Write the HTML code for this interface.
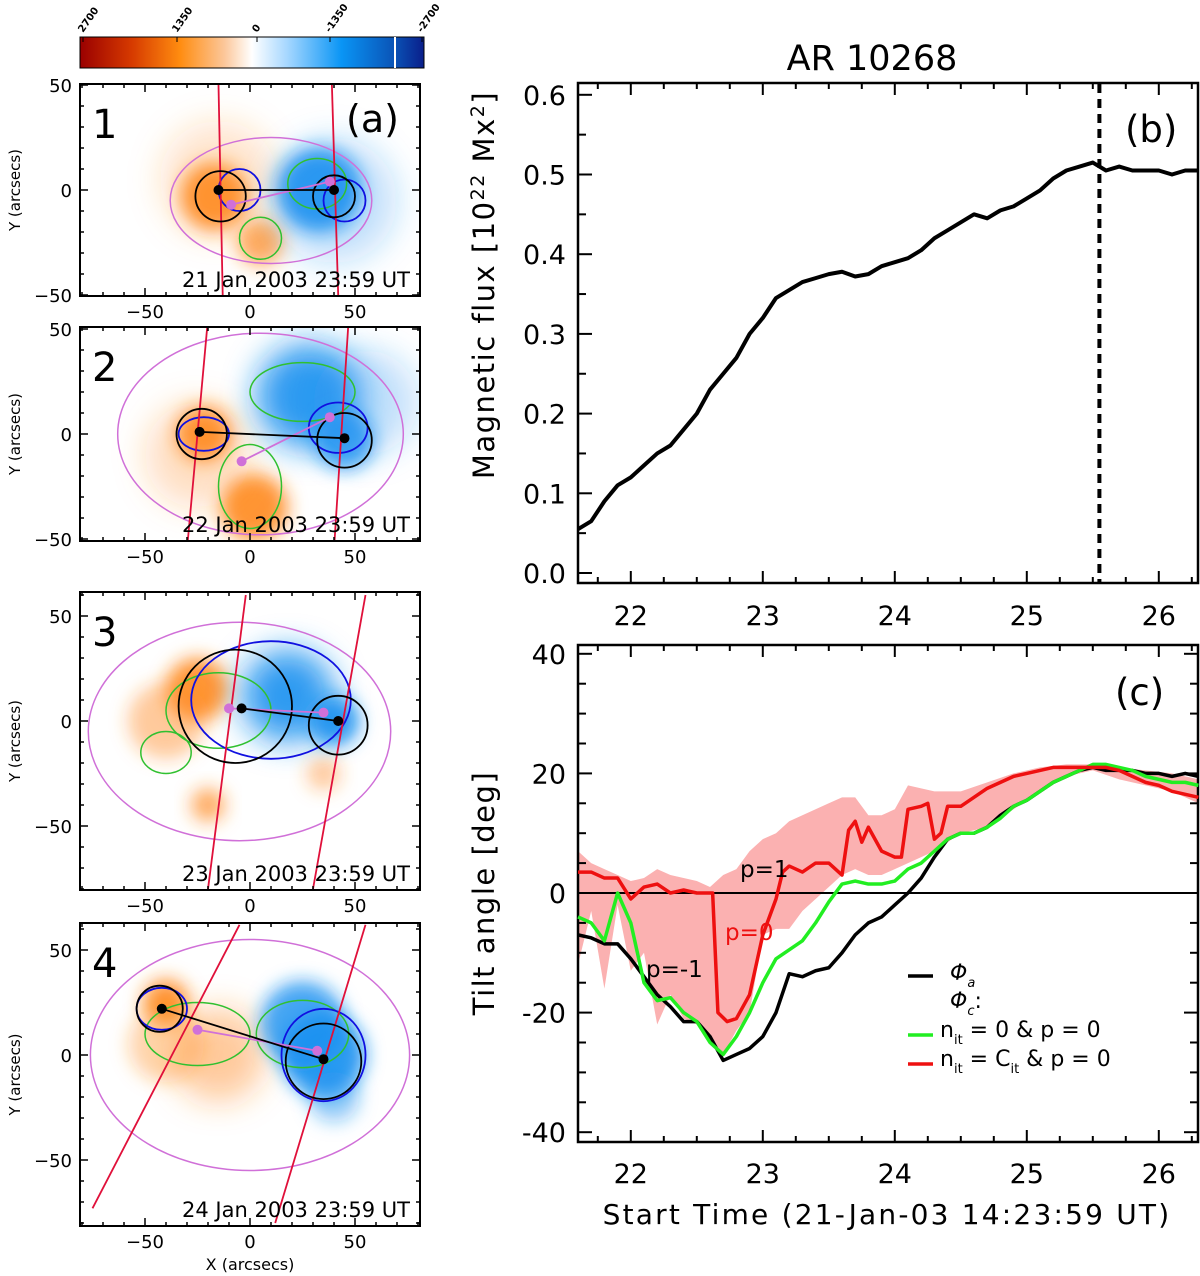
<!DOCTYPE html>
<html><head><meta charset="utf-8"><style>
body{margin:0;background:#fff}
svg{display:block;font-family:"DejaVu Sans","Liberation Sans",sans-serif}
</style></head><body>
<svg id="fig" width="1200" height="1276" viewBox="0 0 1200 1276" xmlns="http://www.w3.org/2000/svg">
<defs>
<linearGradient id="cb" x1="0" x2="1" y1="0" y2="0">
<stop offset="0" stop-color="#9a0000"/><stop offset="0.15" stop-color="#d63a00"/><stop offset="0.29" stop-color="#ff8c10"/><stop offset="0.42" stop-color="#fcc79a"/><stop offset="0.5" stop-color="#ffffff"/><stop offset="0.6" stop-color="#a8d8ff"/><stop offset="0.76" stop-color="#0a95f5"/><stop offset="0.91" stop-color="#0a55b8"/><stop offset="1" stop-color="#0a1e8a"/>
</linearGradient>
<filter id="blur" x="-50%" y="-50%" width="200%" height="200%"><feGaussianBlur stdDeviation="9"/></filter>
<filter id="blur2" x="-50%" y="-50%" width="200%" height="200%"><feGaussianBlur stdDeviation="16"/></filter>
</defs>
<g id="left"></g>
<g id="pb"></g>
<g id="pc"></g>
</svg>
<script>
// ---------- Panel (b) data ----------
const fluxTimes=[21.6,21.7,21.8,21.9,22.0,22.1,22.2,22.3,22.4,22.5,22.6,22.7,22.8,22.9,23.0,23.1,23.2,23.3,23.4,23.5,23.6,23.7,23.8,23.9,24.0,24.1,24.2,24.3,24.4,24.5,24.6,24.7,24.8,24.9,25.0,25.1,25.2,25.3,25.4,25.5,25.6,25.7,25.8,25.9,26.0,26.1,26.2,26.3];
const fluxValues=[0.055,0.065,0.09,0.11,0.12,0.135,0.15,0.16,0.18,0.2,0.23,0.25,0.27,0.3,0.32,0.345,0.355,0.365,0.37,0.375,0.378,0.372,0.375,0.385,0.39,0.395,0.405,0.42,0.43,0.44,0.45,0.445,0.455,0.46,0.47,0.48,0.495,0.505,0.51,0.515,0.505,0.51,0.505,0.505,0.505,0.5,0.505,0.505];
const fluxTicks=[0.0,0.1,0.2,0.3,0.4,0.5,0.6];
const dayTicks=[22,23,24,25,26];
const markerTime=25.55;
// ---------- Panel (c) data ----------
const blackTimes=[21.6,21.7,21.8,21.9,22.0,22.1,22.2,22.3,22.4,22.5,22.6,22.7,22.8,22.9,23.0,23.1,23.2,23.3,23.4,23.5,23.6,23.7,23.8,23.9,24.0,24.1,24.2,24.3,24.4,24.5,24.6,24.7,24.8,24.9,25.0,25.1,25.2,25.3,25.4,25.5,25.6,25.7,25.8,25.9,26.0,26.1,26.2,26.3];
const blackTilt=[-7,-7.5,-8.5,-8.5,-11,-14,-17,-19,-21.5,-21.5,-24,-28,-27,-26,-24,-20,-13.5,-14,-13,-12.5,-10,-7,-5,-4,-2,0,2.5,6,9,10,10,11,13,14.5,15.5,17,18.5,19.5,20.5,21,20.5,20.5,20.5,20,20,19.5,20,19.5];
const greenTilt=[-4,-5,-8,0,-5,-15,-18,-17.5,-20,-21.5,-25,-27,-24,-20,-15,-11,-9.5,-8,-5,-1.5,1.5,2,1.5,1.5,2,4,5,7,9,10,10,11,12.5,14.5,15.5,17,18.5,19.5,20.5,21.5,21.5,21,20.5,19.5,19,18.5,18.5,18];
const redTimes=[21.6,21.7,21.8,21.9,22.0,22.1,22.2,22.3,22.4,22.5,22.62,22.66,22.73,22.8,22.9,23.0,23.1,23.15,23.2,23.3,23.4,23.5,23.6,23.65,23.7,23.75,23.8,23.9,24.0,24.05,24.1,24.2,24.25,24.3,24.35,24.4,24.5,24.6,24.7,24.8,24.9,25.0,25.1,25.2,25.3,25.4,25.5,25.6,25.7,25.8,25.9,26.0,26.1,26.2,26.3];
const redTilt=[3.5,3.5,2.5,2.5,-1,1,1.5,0,0.5,0,0,-20,-21.5,-21,-17,-7,-1,3.5,4.5,3.5,5,5,3,10.5,12,8.5,11,7,6,6,14,14.5,15,9,10,14.5,14.5,16,17.5,18.5,19.5,20,20.5,21,21,21,21,21,20.5,19.5,18.5,18,17,16.5,16];
const bandTimes=[21.6,21.7,21.8,21.9,22.0,22.1,22.2,22.3,22.4,22.5,22.6,22.7,22.8,22.9,23.0,23.1,23.2,23.3,23.4,23.5,23.6,23.7,23.8,23.9,24.0,24.1,24.2,24.3,24.5,24.7,24.9,25.1,25.3,25.5,25.7,25.9,26.1,26.3];
const bandUpper=[7,5,4,3,2,2.5,4,3,2.5,2,1,3,4,7,9,10,12,13,14,15,16,16,13,13,14,18,17.5,17,17,18.5,20,21,21.5,21.5,21,20.5,20,19];
const bandLower=[-12,-3,-16,-2,-13,-10,-22,-17,-21,-22,-24,-27,-23,-20,-7,-6,-6,-3,-1,1,3,4,3,3,4,5,6,7,10,11,14,17,19.5,20.5,19,18,17,15];
const tiltTicks=[-40,-20,0,20,40];

const NS="http://www.w3.org/2000/svg";
function mk(tag,attrs,parent,text){const e=document.createElementNS(NS,tag);for(const k in attrs)e.setAttribute(k,attrs[k]);if(text!==undefined)e.textContent=text;parent.appendChild(e);return e;}

// ---------- Panel b ----------
const pb=document.getElementById('pb');
const X=t=>578+(t-21.6)*132;
const Yb=v=>573-v*797;
const Yc=v=>893-v*5.98;
function axes(g,top,bot,name){
  const r=mk('rect',{x:578,y:top,width:620,height:bot-top,fill:'none',stroke:'#000','stroke-width':2.5},g);
  
  for(let t=21.75;t<26.4;t+=0.25){const big=Math.abs(t-Math.round(t))<0.01;const L=big?12:6;
    mk('line',{x1:X(t),x2:X(t),y1:bot,y2:bot-L,stroke:'#000','stroke-width':2},g);
    mk('line',{x1:X(t),x2:X(t),y1:top,y2:top+L,stroke:'#000','stroke-width':2},g);}
}
axes(pb,83,583,'panel-b');
fluxTicks.forEach(v=>{const y=Yb(v);
  mk('line',{x1:578,x2:592,y1:y,y2:y,stroke:'#000','stroke-width':2},pb);
  if(v<0.55) mk('line',{x1:578,x2:586,y1:Yb(v+0.05),y2:Yb(v+0.05),stroke:'#000','stroke-width':2},pb);
  const t=mk('text',{x:566,y:y+10,'text-anchor':'end','font-size':27},pb,v.toFixed(1));
  });
dayTicks.forEach(d=>{const t=mk('text',{x:X(d),y:625,'text-anchor':'middle','font-size':27},pb,String(d));
  });
const fl=mk('polyline',{points:fluxTimes.map((t,i)=>X(t)+','+Yb(fluxValues[i])).join(' '),fill:'none',stroke:'#000','stroke-width':4,'stroke-linejoin':'round'},pb);

const dl=mk('line',{x1:X(markerTime),x2:X(markerTime),y1:84,y2:582,stroke:'#000','stroke-width':4,'stroke-dasharray':'9,6'},pb);

let t1=mk('text',{x:872,y:70,'text-anchor':'middle','font-size':35},pb,'AR 10268');
let t2=mk('text',{x:1125,y:142,'font-size':37},pb,'(b)');
let yl=mk('text',{transform:'translate(494,285) rotate(-90)','text-anchor':'middle','font-size':29,'letter-spacing':1.5},pb);

yl.innerHTML='Magnetic flux [10<tspan dy="-10" font-size="19">22</tspan><tspan dy="10"> Mx</tspan><tspan dy="-10" font-size="19">2</tspan><tspan dy="10">]</tspan>';

// ---------- Panel c ----------
const pc=document.getElementById('pc');
const band=mk('polygon',{points:bandTimes.map((t,i)=>X(t)+','+Yc(bandUpper[i])).concat(bandTimes.map((t,i)=>X(t)+','+Yc(bandLower[i])).reverse()).join(' '),fill:'#fbb1b1',stroke:'none'},pc);

axes(pc,645,1142,'panel-c');
tiltTicks.forEach(v=>{const y=Yc(v);
  mk('line',{x1:578,x2:592,y1:y,y2:y,stroke:'#000','stroke-width':2},pc);
  mk('line',{x1:1198,x2:1184,y1:y,y2:y,stroke:'#000','stroke-width':2},pc);
  const t=mk('text',{x:566,y:y+10,'text-anchor':'end','font-size':27},pc,String(v));
  });
for(let v=-35;v<=35;v+=5){if(v%20===0)continue;mk('line',{x1:578,x2:586,y1:Yc(v),y2:Yc(v),stroke:'#000','stroke-width':2},pc);mk('line',{x1:1198,x2:1190,y1:Yc(v),y2:Yc(v),stroke:'#000','stroke-width':2},pc);}
dayTicks.forEach(d=>{const t=mk('text',{x:X(d),y:1183,'text-anchor':'middle','font-size':27},pc,String(d));
  });
mk('line',{x1:578,x2:1198,y1:Yc(0),y2:Yc(0),stroke:'#000','stroke-width':2},pc);
function series(ts,vs,col,name){const p=mk('polyline',{points:ts.map((t,i)=>X(t)+','+Yc(vs[i])).join(' '),fill:'none',stroke:col,'stroke-width':3.5,'stroke-linejoin':'round'},pc);
  }
series(blackTimes,blackTilt,'#000','phi-a-line');
series(blackTimes,greenTilt,'#22ee22','phi-c-nit0-line');
series(redTimes,redTilt,'#ee1010','phi-c-cit-line');
[['p=1',740,877,'#000'],['p=0',725,940,'#ee1010'],['p=-1',646,977,'#000']].forEach(a=>{const t=mk('text',{x:a[1],y:a[2],'font-size':23,fill:a[3]},pc,a[0]);});
let t3=mk('text',{x:1115,y:705,'font-size':37},pc,'(c)');
let yl2=mk('text',{transform:'translate(494,893) rotate(-90)','text-anchor':'middle','font-size':29,'letter-spacing':1.5},pc,'Tilt angle [deg]');
let xl=mk('text',{x:887,y:1224,'text-anchor':'middle','font-size':28,'letter-spacing':2.2},pc,'Start Time (21-Jan-03 14:23:59 UT)');
// legend
const lg=mk('g',{},pc);
mk('line',{x1:908,x2:933,y1:976,y2:976,stroke:'#000','stroke-width':3.5},lg);
mk('text',{x:950,y:980,'font-size':22,'font-style':'italic'},lg).innerHTML='Φ<tspan font-size="13" dy="7">a</tspan>';
mk('text',{x:950,y:1008,'font-size':22,'font-style':'italic'},lg).innerHTML='Φ<tspan font-size="13" dy="7">c</tspan><tspan dy="-7" font-style="normal">:</tspan>';
mk('line',{x1:908,x2:933,y1:1035,y2:1035,stroke:'#22ee22','stroke-width':3.5},lg);
mk('text',{x:940,y:1037,'font-size':22},lg).innerHTML='n<tspan font-size="13" dy="7">it</tspan><tspan dy="-7"> = 0  &amp; p = 0</tspan>';
mk('line',{x1:908,x2:933,y1:1064,y2:1064,stroke:'#ee1010','stroke-width':3.5},lg);
mk('text',{x:940,y:1066,'font-size':22},lg).innerHTML='n<tspan font-size="13" dy="7">it</tspan><tspan dy="-7"> = C</tspan><tspan font-size="13" dy="7">it</tspan><tspan dy="-7"> &amp; p = 0</tspan>';

// ---------- Left magnetogram panels ----------
const left=document.getElementById('left');
const cbr=mk('rect',{x:80,y:37,width:344,height:31,fill:'url(#cb)',stroke:'#000','stroke-width':1},left);

mk('line',{x1:395,x2:395,y1:37,y2:68,stroke:'#fff','stroke-width':2},left);
[['2700',83],['1350',177],['0',257],['-1350',330],['-2700',422]].forEach(a=>{
  mk('line',{x1:a[1],x2:a[1],y1:37,y2:42,stroke:'#000'},left);
  const t=mk('text',{transform:`translate(${a[1]},33) rotate(-55)`,'font-size':10,'font-weight':'bold'},left,a[0]);
  });
const S=2.1;
const panels=[
 {n:'1',top:84,bot:296,oy:190,ymin:-50,ymax:50,yt:[50,0,-50],date:'21 Jan 2003 23:59 UT',
  or:[[-17,-3,16,1],[5,-25,11,0.8],[-15,5,28,0.25]],bl:[[33,0,20,1],[40,-5,30,0.3]],
  cir:[[-14,-3,12],[40,-3,10]],dots:[[-15,0],[40,0]],pink:[[-9,-7],[38,4]],red:[[-15,50,-13,-50],[39,50,42,-50]],
  pc:[[10,-5,48,30]],gc:[[5,-23,10,10],[32,3,14,12]],bc:[[-5,0,10,10],[45,-5,10,10]]},
 {n:'2',top:327,bot:541,oy:434,ymin:-50,ymax:50,yt:[50,0,-50],date:'22 Jan 2003 23:59 UT',
  or:[[-22,0,13,1],[2,-35,16,1],[-25,-10,25,0.3]],bl:[[28,18,25,1],[45,-3,14,0.9],[55,15,25,0.3]],
  cir:[[-23,0,12],[45,-3,13]],dots:[[-24,1],[45,-2]],pink:[[-4,-13],[38,8]],red:[[-20,55,-30,-55],[47,55,40,-55]],
  pc:[[5,0,68,48]],gc:[[25,20,25,14],[0,-25,15,20]],bc:[[-22,0,12,8],[42,3,14,12]]},
 {n:'3',top:592,bot:890,oy:721,ymin:-80,ymax:60,yt:[50,0,-50],date:'23 Jan 2003 23:59 UT',
  or:[[-25,15,15,1],[-40,0,18,0.5],[-20,-40,8,0.8],[35,-25,8,0.5]],bl:[[18,12,22,1],[40,0,12,1]],
  cir:[[-7,7,27],[42,-2,14]],dots:[[-4,6],[42,0]],pink:[[-10,6],[35,4]],red:[[-2,60,-20,-80],[55,60,30,-80]],
  pc:[[-5,-5,72,52]],gc:[[-15,5,25,18],[-40,-15,12,10]],bc:[[10,10,38,28]]},
 {n:'4',top:923,bot:1226,oy:1055,ymin:-80,ymax:62,yt:[50,0,-50],date:'24 Jan 2003 23:59 UT',
  or:[[-40,25,11,1],[-15,0,22,0.5],[-40,5,18,0.4]],bl:[[35,0,20,1],[25,15,20,0.9],[40,-20,12,0.5]],
  cir:[[-43,22,11],[35,-3,18]],dots:[[-42,22],[35,-2]],pink:[[-25,12],[32,2]],red:[[-5,62,-75,-73],[55,62,12,-80]],
  pc:[[0,0,76,55]],gc:[[-25,10,25,15],[25,10,22,16]],bc:[[-42,22,12,10],[35,0,20,22]]}];
panels.forEach((p,k)=>{
  const g=mk('g',{},left);
  const px=x=>250+x*S, py=y=>p.oy-y*S;
  const cid='clip'+k;const cp=mk('clipPath',{id:cid},g);mk('rect',{x:80,y:p.top,width:340,height:p.bot-p.top},cp);
  const inner=mk('g',{'clip-path':`url(#${cid})`},g);
  p.or.forEach(b=>mk('circle',{cx:px(b[0]),cy:py(b[1]),r:b[2]*S,fill:'#ff8a20','fill-opacity':b[3]*0.9,filter:b[2]>20?'url(#blur2)':'url(#blur)'},inner));
  p.bl.forEach(b=>mk('circle',{cx:px(b[0]),cy:py(b[1]),r:b[2]*S,fill:'#1890f0','fill-opacity':b[3]*0.9,filter:b[2]>20?'url(#blur2)':'url(#blur)'},inner));
  p.pc.forEach(e=>mk('ellipse',{cx:px(e[0]),cy:py(e[1]),rx:e[2]*S,ry:e[3]*S,fill:'none',stroke:'#d070d8','stroke-width':1.5},inner));
  p.gc.forEach(e=>mk('ellipse',{cx:px(e[0]),cy:py(e[1]),rx:e[2]*S,ry:e[3]*S,fill:'none',stroke:'#30c030','stroke-width':1.5},inner));
  p.bc.forEach(e=>mk('ellipse',{cx:px(e[0]),cy:py(e[1]),rx:e[2]*S,ry:e[3]*S,fill:'none',stroke:'#1010e0','stroke-width':1.8},inner));
  p.red.forEach(l=>mk('line',{x1:px(l[0]),y1:py(l[1]),x2:px(l[2]),y2:py(l[3]),stroke:'#e0103a','stroke-width':1.8},inner));
  p.cir.forEach(c=>mk('circle',{cx:px(c[0]),cy:py(c[1]),r:c[2]*S,fill:'none',stroke:'#000','stroke-width':1.8},inner));
  mk('line',{x1:px(p.pink[0][0]),y1:py(p.pink[0][1]),x2:px(p.pink[1][0]),y2:py(p.pink[1][1]),stroke:'#d070d8','stroke-width':1.8},inner);
  p.pink.forEach(d=>mk('circle',{cx:px(d[0]),cy:py(d[1]),r:5,fill:'#d070d8'},inner));
  mk('line',{x1:px(p.dots[0][0]),y1:py(p.dots[0][1]),x2:px(p.dots[1][0]),y2:py(p.dots[1][1]),stroke:'#000','stroke-width':1.8},inner);
  p.dots.forEach(d=>mk('circle',{cx:px(d[0]),cy:py(d[1]),r:5,fill:'#000'},inner));
  mk('rect',{x:80,y:p.top,width:340,height:p.bot-p.top,fill:'none',stroke:'#000','stroke-width':2},g);
  for(let x=-80;x<=80;x+=10){const L=x%50===0?8:4;
    mk('line',{x1:px(x),x2:px(x),y1:p.bot,y2:p.bot-L,stroke:'#000','stroke-width':1.5},g);
    mk('line',{x1:px(x),x2:px(x),y1:p.top,y2:p.top+L,stroke:'#000','stroke-width':1.5},g);}
  for(let y=-80;y<=60;y+=10){if(y<p.ymin||y>p.ymax)continue;const L=y%50===0?8:4;
    mk('line',{x1:80,x2:80+L,y1:py(y),y2:py(y),stroke:'#000','stroke-width':1.5},g);
    mk('line',{x1:420,x2:420-L,y1:py(y),y2:py(y),stroke:'#000','stroke-width':1.5},g);}
  p.yt.forEach(y=>{const t=mk('text',{x:72,y:py(y)+7,'text-anchor':'end','font-size':18},g,y<0?'\u2212'+(-y):String(y));});
  [-50,0,50].forEach(x=>{const t=mk('text',{x:px(x),y:p.bot+22,'text-anchor':'middle','font-size':18},g,x<0?'\u2212'+(-x):String(x));});
  const yt=mk('text',{transform:`translate(20,${(p.top+p.bot)/2}) rotate(-90)`,'text-anchor':'middle','font-size':15},g,'Y (arcsecs)');
  const nm=mk('text',{x:92,y:p.top+54,'font-size':40},g,p.n);
  const dt=mk('text',{x:410,y:p.bot-9,'text-anchor':'end','font-size':21},g,p.date);
});
let ta=mk('text',{x:346,y:132,'font-size':38},left,'(a)');
let xa=mk('text',{x:250,y:1270,'text-anchor':'middle','font-size':16},left,'X (arcsecs)');
</script>
</body></html>
